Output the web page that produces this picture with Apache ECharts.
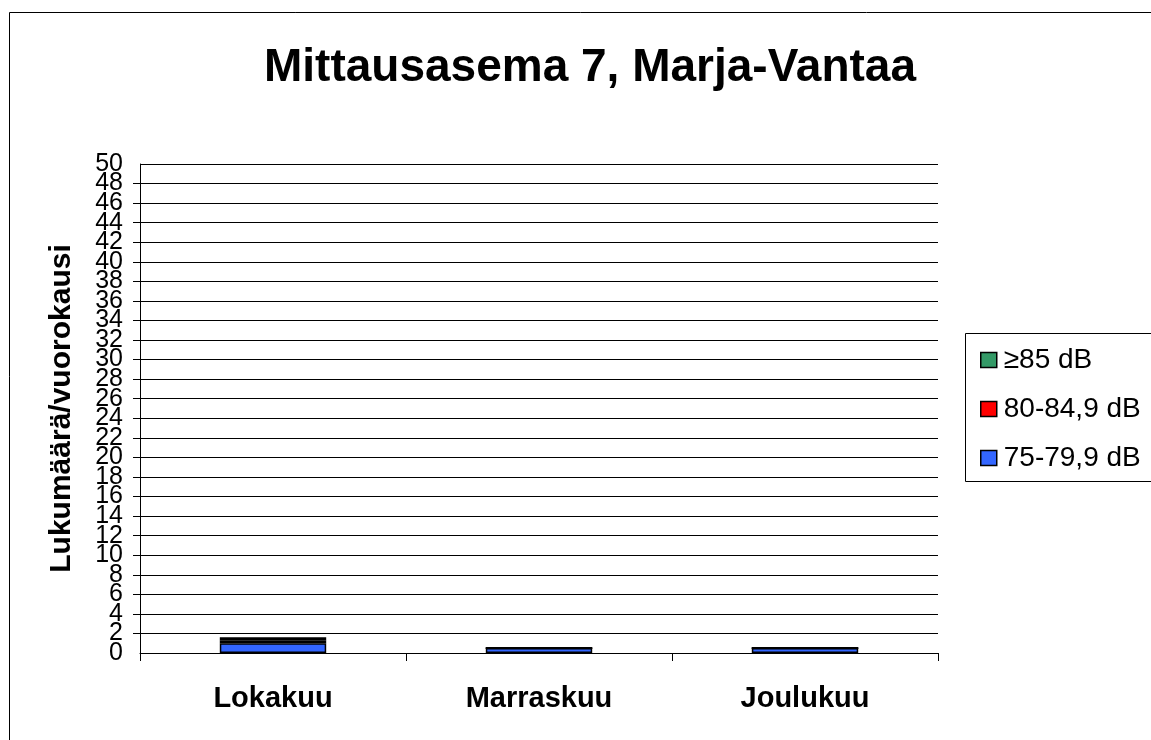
<!DOCTYPE html>
<html>
<head>
<meta charset="utf-8">
<script src="https://cdn.jsdelivr.net/npm/echarts@6/dist/echarts.min.js"></script>
<style>
  html, body { margin: 0; padding: 0; background: #fff; }
  #chart { width: 1151px; height: 740px; }
</style>
</head>
<body>
<div id="chart"></div>
<script>
// Months shown on the category axis
const months = ['Lokakuu', 'Marraskuu', 'Joulukuu'];
// Daily counts per noise band
const band75 = [1.0, 0.5, 0.5];   // 75-79,9 dB
const band80 = [0.3, 0, 0];       // 80-84,9 dB
const band85 = [0.3, 0, 0];       // ≥85 dB
const seriesNames = ['75-79,9 dB', '80-84,9 dB', '≥85 dB'];
const legendOrder = ['≥85 dB', '80-84,9 dB', '75-79,9 dB'];
// Value axis range and step
const yMin = 0, yMax = 50, yStep = 2;

const font = 'Arial, "Liberation Sans", sans-serif';
const chart = echarts.init(document.getElementById('chart'));

function bar(name, data, color, bw) {
  return {
    name: name,
    type: 'bar',
    stack: 'total',
    yAxisIndex: 0,
    data: data,
    barWidth: '40%',
    itemStyle: { color: color, borderColor: '#000', borderWidth: bw },
    emphasis: { disabled: true }
  };
}

const tickLabel = { fontFamily: font, fontSize: 25, color: '#000', margin: 17 };

chart.setOption({
  animation: false,
  backgroundColor: '#fff',
  title: {
    text: 'Mittausasema 7, Marja-Vantaa',
    left: 585,
    top: 40,
    textAlign: 'center',
    textStyle: { fontFamily: font, fontSize: 46, fontWeight: 'bold', color: '#000' }
  },
  legend: {
    data: legendOrder,
    orient: 'vertical',
    left: 975,
    top: 341,
    itemGap: 21,
    itemWidth: 16,
    itemHeight: 15,
    icon: 'rect',
    itemStyle: { borderColor: '#000', borderWidth: 1.5 },
    textStyle: { fontFamily: font, fontSize: 28, color: '#000', padding: [0, 0, 0, 2] }
  },
  graphic: [
    { type: 'rect', shape: { x: 9.5, y: 12.5, width: 1160, height: 760 },
      style: { fill: 'none', stroke: '#000', lineWidth: 1 }, silent: true, z: -1 },
    { type: 'rect', shape: { x: 965.5, y: 333.5, width: 200, height: 148 },
      style: { fill: 'none', stroke: '#000', lineWidth: 1 }, silent: true, z: -1 }
  ],
  grid: { left: 140, right: 213, top: 164, bottom: 87, containLabel: false },
  xAxis: {
    type: 'category',
    data: months,
    axisLine: { lineStyle: { color: '#000', width: 1 } },
    axisTick: { show: true, length: 8, lineStyle: { color: '#000' } },
    axisLabel: { fontFamily: font, fontSize: 29, fontWeight: 'bold', color: '#000', margin: 31 }
  },
  yAxis: [
    {
      // main value axis: grid, ticks and the inner labels
      type: 'value',
      position: 'left',
      min: yMin,
      max: yMax,
      interval: yStep,
      name: 'Lukumäärä/vuorokausi',
      nameLocation: 'middle',
      nameGap: 63,
      nameRotate: 90,
      nameTextStyle: { fontFamily: font, fontSize: 30, fontWeight: 'bold', color: '#000' },
      axisLine: { show: true, lineStyle: { color: '#000', width: 1 } },
      axisTick: { show: true, length: 7, lineStyle: { color: '#000' } },
      axisLabel: Object.assign({ showMinLabel: false, showMaxLabel: false, hideOverlap: false }, tickLabel),
      splitLine: { show: true, lineStyle: { color: '#000', width: 1 } }
    },
    {
      // companion axis carrying only the end labels
      type: 'value',
      position: 'left',
      offset: 0,
      min: yMin,
      max: yMax,
      interval: yMax - yMin,
      axisLine: { show: false },
      axisTick: { show: false },
      splitLine: { show: false },
      axisLabel: Object.assign({ showMinLabel: true, showMaxLabel: true }, tickLabel)
    }
  ],
  series: [
    bar(seriesNames[0], band75, '#3366ff', 1.5),
    bar(seriesNames[1], band80, '#ff0000', 2),
    bar(seriesNames[2], band85, '#339966', 2)
  ]
});
</script>
</body>
</html>
